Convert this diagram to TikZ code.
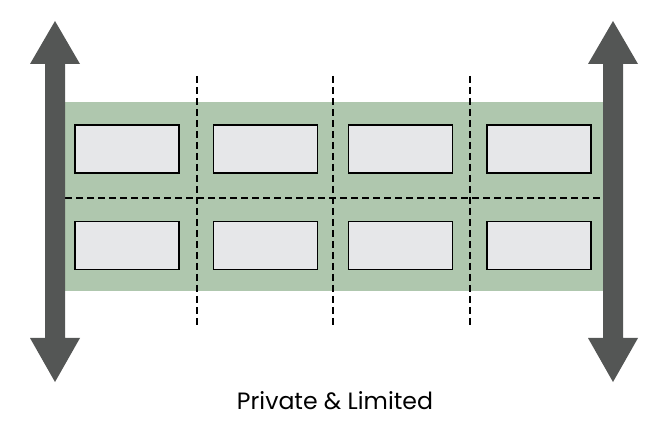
\documentclass[tikz,border=0pt]{standalone}
\usepackage{fontspec}
\setmainfont{Poppins}
\usetikzlibrary{positioning}

\definecolor{bandgreen}{RGB}{175,199,174}
\definecolor{lotgray}{RGB}{230,231,233}
\definecolor{arrowgray}{RGB}{84,86,85}

\tikzset{
  lot/.style={draw=black, line width=1.8pt, fill=lotgray, minimum width=104pt, minimum height=48pt, inner sep=0pt},
  splitline/.style={draw=black, line width=1.8pt, dash pattern={on 7pt off 4pt}},
  bigarrow/.style={fill=arrowgray, draw=none}
}

\begin{document}
\begin{tikzpicture}[x=1pt,y=1pt,yscale=-1,xscale=1]
% canvas
\useasboundingbox (0,0) rectangle (662,422);

% green band
\fill [bandgreen] (55,102) rectangle (613,291);

% lots, top row
\node [lot] (lotA) at (127,149) {};
\node [lot] (lotB) at (265.5,149) {};
\node [lot] (lotC) at (400.5,149) {};
\node [lot] (lotD) at (539,149) {};
% lots, bottom row
\node [lot] (lotE) at (127,245.5) {};
\node [lot] (lotF) at (265.5,245.5) {};
\node [lot] (lotG) at (400.5,245.5) {};
\node [lot] (lotH) at (539,245.5) {};

% property lines
\coordinate (ln1t) at (197,76);  \coordinate (ln1b) at (197,328);
\coordinate (ln2t) at (333,76);  \coordinate (ln2b) at (333,328);
\coordinate (ln3t) at (470,76);  \coordinate (ln3b) at (470,328);
\coordinate (midl) at (65,198);  \coordinate (midr) at (603,198);
\draw [splitline] (ln1t) -- (ln1b);
\draw [splitline] (ln2t) -- (ln2b);
\draw [splitline] (ln3t) -- (ln3b);
\draw [splitline] (midl) -- (midr);

% street arrows
\fill [bigarrow] (55,21) -- (80,64) -- (65,64) -- (65,338) -- (80,338) -- (55,382) -- (30,338) -- (45,338) -- (45,64) -- (30,64) -- cycle;
\fill [bigarrow] (613,21) -- (638,64) -- (623,64) -- (623,338) -- (638,338) -- (613,382) -- (588,338) -- (603,338) -- (603,64) -- (588,64) -- cycle;

% caption
\node [font=\fontsize{23.6}{28}\selectfont] (caption) at (335,401) {Private \& Limited};

\end{tikzpicture}
\end{document}
